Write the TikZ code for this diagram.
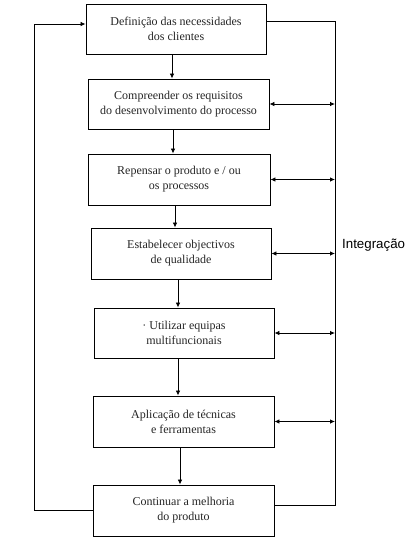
\documentclass[tikz,border=0pt]{standalone}
\usepackage{fontspec}
\setmainfont{Liberation Serif}
\newfontfamily\sansf{Liberation Sans}
\usetikzlibrary{arrows.meta}
\begin{document}
\begin{tikzpicture}[x=1pt,y=-1pt,
  boxn/.style={draw,line width=0.9pt,inner sep=0pt,align=center,
    font=\fontsize{12}{15}\selectfont,text=black!85},
  arr/.style={line width=0.8pt,-{Latex[length=5pt,width=4.5pt]}},
  biarr/.style={line width=0.8pt,{Latex[length=5pt,width=4.5pt]}-{Latex[length=5pt,width=4.5pt]}},
  plain/.style={line width=0.8pt}]
\clip (0,0) rectangle (406,541);
\fill[white] (0,0) rectangle (406,541);
\node[boxn,minimum width=180pt,minimum height=50pt] (b1) at (176,29) {Definição das necessidades\\dos clientes};
\node[boxn,minimum width=181pt,minimum height=50pt] (b2) at (178.5,104) {Compreender os requisitos\\do desenvolvimento do processo};
\node[boxn,minimum width=182pt,minimum height=51pt] (b3) at (179,179.5) {Repensar o produto e / ou\\os processos};
\node[boxn,minimum width=180pt,minimum height=51pt] (b4) at (181,253.5) {Estabelecer objectivos\\de qualidade};
\node[boxn,minimum width=180pt,minimum height=50pt] (b5) at (184,333) {· Utilizar equipas\\multifuncionais};
\node[boxn,minimum width=181pt,minimum height=51pt] (b6) at (183.5,421.5) {Aplicação de técnicas\\e ferramentas};
\node[boxn,minimum width=181pt,minimum height=51pt] (b7) at (183.5,510.5) {Continuar a melhoria\\do produto};
\node[anchor=west,inner sep=0pt,font=\sansf\fontsize{13.3}{16}\selectfont] (integ) at (342,245) {Integração};
% vertical flow arrows
\draw[arr] ([xshift=-4pt]b1.south) -- ([xshift=-4pt]b1.south |- b2.north);
\draw[arr] ([xshift=-5.5pt]b2.south) -- ([xshift=-5.5pt]b2.south |- b3.north);
\draw[arr] ([xshift=-4pt]b3.south) -- ([xshift=-4pt]b3.south |- b4.north);
\draw[arr] ([xshift=-3pt]b4.south) -- ([xshift=-3pt]b4.south |- b5.north);
\draw[arr] ([xshift=-6pt]b5.south) -- ([xshift=-6pt]b5.south |- b6.north);
\draw[arr] ([xshift=-3.5pt]b6.south) -- ([xshift=-3.5pt]b6.south |- b7.north);
% right integration line
\coordinate (rt) at (335,21);
\coordinate (rb) at (335,505);
\draw[plain] ([yshift=8pt]b1.east) -- (rt) -- (rb) -- (b7.east |- rb);
\foreach \b in {b2,b3,b4,b5,b6} \draw[biarr] (\b.east) -- (\b.east -| rt);
% left feedback loop
\coordinate (lt) at (34,24);
\draw[arr] (b7.west) -- (b7.west -| lt) -- (lt) -- (b1.west |- lt);
\end{tikzpicture}
\end{document}
